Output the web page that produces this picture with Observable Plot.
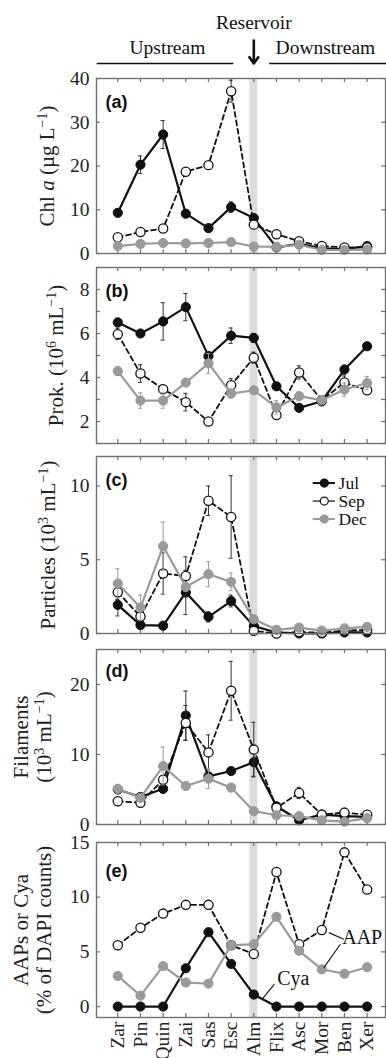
<!DOCTYPE html>
<html><head><meta charset="utf-8">
<script src="https://cdn.jsdelivr.net/npm/d3@7"></script>
<script src="https://cdn.jsdelivr.net/npm/@observablehq/plot@0.6"></script>
<style>
html,body{margin:0;padding:0;background:#fff;}
#chart{position:relative;width:386px;height:1058px;overflow:hidden;background:#fff;}
#chart svg{position:absolute;left:0;overflow:visible;}
</style></head><body><div id="chart"></div>
<script>
// ---------- data ----------
const sites = ["Zar","Pin","Quin","Zai","Sas","Esc","Alm","Flix","Asc","Mor","Ben","Xer"];
const months = ["Jul","Sep","Dec"];

// (a) Chl a (µg L-1)
const chlJul = [9.3, 20.3, 27.2, 9.1, 5.8, 10.6, 8.1, 1.4, 2.2, 1.2, 1.0, 1.7];
const chlSep = [3.7, 4.9, 5.7, 18.7, 20.2, 37.1, 6.6, 4.4, 2.8, 1.7, 1.4, 1.4];
const chlDec = [1.7, 2.2, 2.4, 2.3, 2.4, 2.6, 1.6, 1.5, 2.0, 0.8, 0.8, 0.9];
const chlJulErr = [0.9, 2.0, 3.2, 0.7, 0.6, 1.2, 0.8, 0.3, 0.3, 0.2, 0.2, 0.3];
const chlSepErr = [0.3, 0.4, 0.4, 0.5, 0.5, 2.5, 0.5, 0.4, 0.3, 0.2, 0.2, 0.2];
const chlDecErr = [0.2, 0.2, 0.2, 0.2, 0.2, 0.2, 0.2, 0.2, 0.2, 0.1, 0.1, 0.1];

// (b) Prokaryotes (10^6 mL-1)
const proJul = [6.5, 6.0, 6.55, 7.2, 4.97, 5.9, 5.8, 3.6, 2.62, 2.92, 4.36, 5.42];
const proSep = [5.97, 4.18, 3.47, 2.88, 2.0, 3.65, 4.9, 2.29, 4.23, 2.97, 3.77, 3.42];
const proDec = [4.29, 2.95, 2.95, 3.77, 4.64, 3.27, 3.42, 2.64, 3.15, 2.97, 3.45, 3.75];
const proJulErr = [0.2, 0.1, 0.85, 0.62, 0.2, 0.35, 0.2, 0.1, 0.1, 0.2, 0.2, 0.1];
const proSepErr = [0.25, 0.4, 0.2, 0.4, 0.1, 0.3, 0.25, 0.1, 0.3, 0.2, 0.3, 0.1];
const proDecErr = [0.2, 0.35, 0.35, 0.1, 0.45, 0.2, 0.1, 0.3, 0.2, 0.2, 0.3, 0.3];

// (c) Particles (10^3 mL-1)
const parJul = [1.94, 0.57, 0.53, 2.78, 1.13, 2.2, 0.5, 0.07, 0.0, 0.0, 0.07, 0.07];
const parSep = [2.8, 1.15, 4.07, 3.9, 9.0, 7.9, 0.18, 0.0, 0.1, 0.05, 0.2, 0.25];
const parDec = [3.39, 1.76, 5.92, 3.16, 4.02, 3.5, 0.97, 0.25, 0.4, 0.2, 0.35, 0.45];
const parJulErr = [0.75, 0.1, 0.1, 1.5, 0.35, 0.4, 0.1, 0, 0, 0, 0, 0];
const parSepErr = [0.5, 0.3, 1.4, 1.3, 1.0, 2.8, 0.1, 0, 0, 0, 0, 0];
const parDecErr = [1.0, 0.85, 1.65, 0.3, 0.85, 0.6, 0.2, 0.1, 0.1, 0.1, 0.1, 0.1];

// (d) Filaments (10^3 mL-1)
const filJul = [5.0, 3.93, 5.1, 15.57, 6.88, 7.64, 8.9, 2.6, 0.6, 1.42, 1.2, 1.1];
const filSep = [3.32, 3.1, 6.4, 14.5, 10.3, 19.1, 10.7, 2.4, 4.5, 1.4, 1.7, 1.4];
const filDec = [5.1, 3.8, 8.35, 5.5, 6.55, 5.27, 1.9, 1.32, 1.2, 0.6, 0.4, 0.9];
const filJulErr = [0.3, 0.5, 0.6, 3.5, 0.5, 0.5, 2.0, 0.5, 0.2, 0.2, 0.2, 0.2];
const filSepErr = [0.2, 0.5, 0.5, 2.5, 2.5, 4.2, 3.9, 0.3, 0.8, 0.3, 0.3, 0.3];
const filDecErr = [0.5, 0.5, 2.7, 0.5, 1.4, 0.5, 0.3, 0.2, 0.2, 0.2, 0.2, 0.2];

// (e) AAPs or Cya (% of DAPI counts)
const aapJul = [0, 0, 0, 3.5, 6.8, 3.9, 1.1, 0, 0, 0, 0, 0];
const aapSep = [5.6, 7.2, 8.5, 9.3, 9.3, 5.6, 4.8, 12.3, 5.7, 7.0, 14.1, 10.7];
const aapDec = [2.8, 1.0, 3.7, 2.2, 2.1, 5.6, 5.7, 8.2, 5.1, 3.4, 3.0, 3.6];

// ---------- layout helpers ----------
const W = 386, ML = 96, MR = 1;
const xDom = [-0.94, 11.81];
const xUnit = (xDom[1] - xDom[0]) / (W - ML - MR);
const idx = sites.map((_, i) => i);
const alm = sites.indexOf("Alm");
const TICK = 4;
const frameColor = "#707070";
const serif = "'Liberation Serif','Times New Roman',serif";
const sans = "'Liberation Sans',Arial,sans-serif";
const monthStyle = {
  Jul: {stroke: "#111", fill: "#111", dash: null, sw: 2.2},
  Sep: {stroke: "#111", fill: "#fff", dash: "5,3.5", sw: 1.8},
  Dec: {stroke: "#9a9a9a", fill: "#9a9a9a", dash: null, sw: 2.2}
};

function makePanel(p) {
  const [y0, y1] = p.yDomain;
  const frameH = p.height - p.marginTop - p.marginBottom;
  const yUnit = (y1 - y0) / frameH;
  const marks = [
    Plot.rect([0], {x1: alm - 0.17, x2: alm + 0.18, fill: "#dcdcdc"}),
    Plot.ruleY(p.yTicks, {x1: xDom[0], x2: xDom[0] + TICK * xUnit, stroke: frameColor, strokeWidth: 1.2}),
    Plot.ruleY(p.yTicks, {x1: xDom[1], x2: xDom[1] - TICK * xUnit, stroke: frameColor, strokeWidth: 1.2}),
    Plot.ruleX(idx, {y1: y1, y2: y1 - TICK * yUnit, stroke: frameColor, strokeWidth: 1.2}),
    Plot.ruleX(idx, {y1: y0, y2: y0 + TICK * yUnit, stroke: frameColor, strokeWidth: 1.2})
  ];
  for (const m of ["Jul", "Sep", "Dec"]) {
    const st = monthStyle[m];
    const vals = p.values[m];
    const errs = p.errors ? p.errors[m] : null;
    const rows = vals.map((v, i) => ({i, v, e: errs ? errs[i] : 0}));
    const er = rows.filter(d => d.e > 0);
    const ec = m === "Dec" ? "#9a9a9a" : "#333";
    if (er.length) {
      marks.push(Plot.ruleX(er, {x: "i", y1: d => d.v - d.e, y2: d => d.v + d.e, stroke: ec, strokeWidth: 1}));
      marks.push(Plot.ruleY(er, {y: d => d.v + d.e, x1: d => d.i - 0.09, x2: d => d.i + 0.09, stroke: ec, strokeWidth: 1}));
      marks.push(Plot.ruleY(er, {y: d => d.v - d.e, x1: d => d.i - 0.09, x2: d => d.i + 0.09, stroke: ec, strokeWidth: 1}));
    }
    marks.push(Plot.line(rows, {x: "i", y: "v", stroke: st.stroke, strokeWidth: st.sw, strokeDasharray: st.dash}));
    marks.push(Plot.dot(rows, {x: "i", y: "v", r: 4.6, fill: st.fill, stroke: st.stroke, strokeWidth: m === "Sep" ? 1.3 : 1}));
  }
  marks.push(Plot.frame({stroke: frameColor, strokeWidth: 1.4}));
  marks.push(Plot.text([p.letter], {text: d => d, frameAnchor: "top-left", dx: 9, dy: p.letterDy,
    textAnchor: "start", lineAnchor: "middle", fontFamily: sans, fontWeight: "bold", fontSize: 18, fill: "#111"}));
  marks.push(Plot.text([p.label.map(l => l.map(s => s[0]).join("")).join("\n")], {text: d => d, frameAnchor: "left",
    dx: p.labelX - ML, rotate: -90, textAnchor: "middle", lineAnchor: "middle", lineHeight: 1.1, fontSize: 21, fill: "#222"}));
  if (p.extra) marks.push(...p.extra(yUnit));
  const plot = Plot.plot({
    width: W, height: p.height,
    marginLeft: ML, marginRight: MR, marginTop: p.marginTop, marginBottom: p.marginBottom,
    style: {fontFamily: serif, fontSize: "19.5px", color: "#222", background: "transparent", overflow: "visible"},
    x: p.xAxis ? {domain: xDom, ticks: idx, tickFormat: i => sites[i], tickRotate: -90, tickSize: 0, tickPadding: 4, label: null}
               : {domain: xDom, axis: null},
    y: {domain: p.yDomain, ticks: p.yLabels, tickSize: 0, tickPadding: 7, label: null},
    marks
  });
  plot.style.top = p.top + "px";
  richify(plot, p.label);
  return plot;
}

// replace plain label lines with styled tspans (italic / superscript)
function richify(svg, label) {
  const ns = "http://www.w3.org/2000/svg";
  for (const line of label) {
    const plain = line.map(s => s[0]).join("");
    for (const el of svg.querySelectorAll("text, tspan")) {
      if (el.children.length === 0 && el.textContent === plain) {
        el.textContent = "";
        let shifted = false;
        for (const [t, kind] of line) {
          const ts = document.createElementNS(ns, "tspan");
          ts.textContent = t;
          if (kind === "s") { ts.setAttribute("font-size", "14"); ts.setAttribute("dy", "-7"); shifted = true; }
          else if (shifted) { ts.setAttribute("dy", "7"); shifted = false; }
          if (kind === "i") ts.setAttribute("font-style", "italic");
          el.appendChild(ts);
        }
      }
    }
  }
}

const chart = document.getElementById("chart");

// (a)
chart.appendChild(makePanel({
  top: 0, height: 256, marginTop: 78, marginBottom: 3,
  yDomain: [0, 40], yTicks: [0, 10, 20, 30, 40], yLabels: [0, 10, 20, 30, 40],
  values: {Jul: chlJul, Sep: chlSep, Dec: chlDec},
  errors: {Jul: chlJulErr, Sep: chlSepErr, Dec: chlDecErr},
  letter: "(a)", letterDy: 24, labelX: 46,
  label: [[["Chl "], ["a", "i"], [" (µg L"], ["−1", "s"], [")"]]],
  extra: (yUnit) => [
    Plot.text(["Reservoir"], {text: d => d, x: alm, frameAnchor: "top", dy: -56, lineAnchor: "middle", fontSize: 19.5, fill: "#111"}),
    Plot.text(["Upstream"], {text: d => d, x: 2.19, frameAnchor: "top", dy: -31, lineAnchor: "middle", fontSize: 19.5, fill: "#111"}),
    Plot.text(["Downstream"], {text: d => d, x: 9.16, frameAnchor: "top", dy: -31, lineAnchor: "middle", fontSize: 19.5, fill: "#111"}),
    Plot.ruleY([40], {x1: -0.91, x2: 5.12, dy: -15, stroke: "#111", strokeWidth: 1.5}),
    Plot.ruleY([40], {x1: 6.7, x2: 11.9, dy: -15, stroke: "#111", strokeWidth: 1.5}),
    Plot.arrow([0], {x1: alm, x2: alm, y1: 40 + 38 * yUnit, y2: 40 + 15 * yUnit, stroke: "#111", strokeWidth: 2.6, headLength: 9, headAngle: 70})
  ]
}));

// (b)
chart.appendChild(makePanel({
  top: 256, height: 190, marginTop: 11, marginBottom: 3,
  yDomain: [1, 9], yTicks: [1, 2, 3, 4, 5, 6, 7, 8, 9], yLabels: [2, 4, 6, 8],
  values: {Jul: proJul, Sep: proSep, Dec: proDec},
  errors: {Jul: proJulErr, Sep: proSepErr, Dec: proDecErr},
  letter: "(b)", letterDy: 24, labelX: 55,
  label: [[["Prok. (10"], ["6", "s"], [" mL"], ["−1", "s"], [")"]]]
}));

// (c)
chart.appendChild(makePanel({
  top: 446, height: 190, marginTop: 10, marginBottom: 3,
  yDomain: [0, 12], yTicks: [0, 5, 10], yLabels: [0, 5, 10],
  values: {Jul: parJul, Sep: parSep, Dec: parDec},
  errors: {Jul: parJulErr, Sep: parSepErr, Dec: parDecErr},
  letter: "(c)", letterDy: 24, labelX: 47,
  label: [[["Particles (10"], ["3", "s"], [" mL"], ["−1", "s"], [")"]]],
  extra: () => {
    const leg = months.map((m, k) => ({m, y: 10.2 - k * 1.22}));
    const out = [];
    for (const d of leg) {
      const st = monthStyle[d.m];
      out.push(Plot.ruleY([d], {y: "y", x1: 8.62, x2: 9.6, stroke: st.stroke, strokeWidth: d.m === "Sep" ? 1.2 : 2}));
      out.push(Plot.dot([d], {x: 9.11, y: "y", r: 4, fill: st.fill, stroke: st.stroke, strokeWidth: 1.2}));
    }
    out.push(Plot.text(leg, {x: 9.74, y: "y", text: "m", textAnchor: "start", lineAnchor: "middle", fontSize: 17.5, fill: "#111"}));
    return out;
  }
}));

// (d)
chart.appendChild(makePanel({
  top: 636, height: 192, marginTop: 13, marginBottom: 4,
  yDomain: [0, 25], yTicks: [0, 10, 20], yLabels: [0, 10, 20],
  values: {Jul: filJul, Sep: filSep, Dec: filDec},
  errors: {Jul: filJulErr, Sep: filSepErr, Dec: filDecErr},
  letter: "(d)", letterDy: 22, labelX: 32,
  label: [[["Filaments"]], [["(10"], ["3", "s"], [" mL"], ["−1", "s"], [")"]]]
}));

// (e)
chart.appendChild(makePanel({
  top: 828, height: 230, marginTop: 14, marginBottom: 41,
  yDomain: [-1, 15], yTicks: [0, 5, 10, 15], yLabels: [0, 5, 10, 15],
  values: {Jul: aapJul, Sep: aapSep, Dec: aapDec},
  errors: null, xAxis: true,
  letter: "(e)", letterDy: 29, labelX: 32,
  label: [[["AAPs or Cya"]], [["(% of DAPI counts)"]]],
  extra: () => {
    const notes = [{t: "AAP", x: 9.9, y: 6.3}, {t: "Cya", x: 7.03, y: 2.6}];
    const leaders = [
      {x1: 9.31, y1: 6.76, x2: 9.97, y2: 6.16},
      {x1: 9.82, y1: 5.7, x2: 9.09, y2: 3.56},
      {x1: 6.91, y1: 2.05, x2: 6.37, y2: 0.68}
    ];
    return [
      Plot.link(leaders, {x1: "x1", y1: "y1", x2: "x2", y2: "y2", stroke: "#111", strokeWidth: 1.1}),
      Plot.text(notes, {x: "x", y: "y", text: "t", textAnchor: "start", lineAnchor: "middle", fontSize: 20, fill: "#111"})
    ];
  }
}));
</script></body></html>
